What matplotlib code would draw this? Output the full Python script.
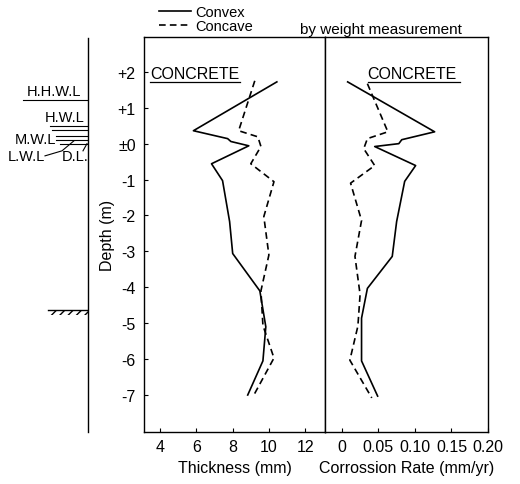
import matplotlib
matplotlib.use("Agg")
import matplotlib.pyplot as plt

# ---- data ----
depth_ticks = [2, 1, 0, -1, -2, -3, -4, -5, -6, -7]
depth_ticklabels = ["+2", "+1", "±0", "-1", "-2", "-3", "-4", "-5", "-6", "-7"]

thick_ticks = [4, 6, 8, 10, 12]
rate_ticks = [0, 0.05, 0.10, 0.15, 0.20]
rate_ticklabels = ["0", "0.05", "0.10", "0.15", "0.20"]

depth_thick_convex = [1.72, 0.36, 0.14, 0.06, -0.06, -0.56, -1.03, -2.17, -3.06, -4.1, -5.1, -6.05, -7.0]
thick_convex = [10.44, 5.83, 7.72, 7.9, 8.89, 6.83, 7.44, 7.83, 8.0, 9.5, 9.83, 9.67, 8.83]

depth_thick_concave = [1.75, 0.36, 0.19, -0.08, -0.56, -1.06, -2.03, -3.1, -4.1, -5.06, -5.97, -7.0]
thick_concave = [9.22, 8.33, 9.39, 9.56, 9.0, 10.28, 9.72, 10.0, 9.56, 9.67, 10.28, 9.17]

depth_rate_convex = [1.72, 0.33, 0.11, 0.0, -0.08, -0.61, -1.05, -2.17, -3.14, -4.03, -4.86, -6.05, -7.03]
rate_convex = [0.008, 0.127, 0.082, 0.078, 0.045, 0.101, 0.086, 0.075, 0.069, 0.035, 0.027, 0.027, 0.049]

depth_rate_concave = [1.67, 0.33, 0.14, -0.14, -0.61, -1.1, -2.14, -3.14, -4.2, -5.08, -6.03, -7.08]
rate_concave = [0.035, 0.063, 0.035, 0.030, 0.045, 0.012, 0.027, 0.018, 0.025, 0.022, 0.011, 0.041]

# water levels (depth, m)
level_names = ["H.H.W.L", "H.W.L", "M.W.L", "L.W.L", "D.L."]
level_depths = [1.22, 0.5, 0.14, 0.0, 0.0]
ground_depth = -4.64

plt.rcParams['font.family'] = ['Liberation Sans', 'DejaVu Sans']

W, H = 520, 485
fig = plt.figure(figsize=(W / 100, H / 100), dpi=100)

ylim = (-8.03, 2.97)
bottom = 1 - 433 / H
height = (433 - 38) / H

ax1 = fig.add_axes([144 / W, bottom, (325 - 144) / W, height])
ax2 = fig.add_axes([325 / W, bottom, (488 - 325) / W, height])
axl = fig.add_axes([0, bottom, 88 / W, height])

dash = (0, (4, 2.5))
lw = 1.2
l1, = ax1.plot(thick_convex, depth_thick_convex, color='black', lw=lw)
l2, = ax1.plot(thick_concave, depth_thick_concave, color='black', lw=lw, linestyle=dash)
ax2.plot(rate_convex, depth_rate_convex, color='black', lw=lw)
ax2.plot(rate_concave, depth_rate_concave, color='black', lw=lw, linestyle=dash)

fs_main = 11.5
for ax, tx, ux in ((ax1, 0.035, 0.53), (ax2, 0.262, 0.83)):
    ax.set_ylim(*ylim)
    for s in ax.spines.values():
        s.set_linewidth(1.0)
    ax.tick_params(direction='in', length=3, width=0.8, labelsize=fs_main)
    ax.text(tx, 0.895, "CONCRETE", transform=ax.transAxes, fontsize=fs_main)
    ax.plot([tx, ux], [0.885, 0.885], transform=ax.transAxes, color='black', lw=0.9)

ax1.set_xlim(3.1, 13.1)
ax1.set_xticks(thick_ticks)
ax1.set_yticks(depth_ticks)
ax1.set_yticklabels(depth_ticklabels)
ax1.set_xlabel("Thickness (mm)", fontsize=fs_main, labelpad=4)
ax1.set_ylabel("Depth (m)", fontsize=fs_main, labelpad=2)
ax1.tick_params(axis='y', pad=6)
ax1.tick_params(axis='x', pad=5)

ax2.set_xlim(-0.023, 0.20)
ax2.set_xticks(rate_ticks)
ax2.set_xticklabels(rate_ticklabels)
ax2.set_yticks([])
ax2.tick_params(axis='x', pad=5)
ax2.set_xlabel("Corrossion Rate (mm/yr)", fontsize=fs_main, labelpad=4)

# left strip with water levels
axl.set_ylim(*ylim)
axl.set_xlim(0, 88)
axl.axis('off')
axl.plot([88, 88], [ylim[0], ylim[1] - 0.02], color='black', lw=1.0, clip_on=False)
fs = 10.5
axl.text(81, 1.22 + 0.06, level_names[0], ha='right', va='bottom', fontsize=fs)
axl.plot([23, 88], [1.22, 1.22], color='black', lw=0.8)
axl.text(84, 0.5 + 0.06, level_names[1], ha='right', va='bottom', fontsize=fs)
axl.plot([50, 88], [0.5, 0.5], color='black', lw=0.8)
axl.plot([52, 88], [0.37, 0.37], color='black', lw=0.8)
axl.text(56, 0.14, level_names[2], ha='right', va='center', fontsize=fs)
axl.plot([56, 88], [0.22, 0.22], color='black', lw=0.8)
axl.plot([56, 88], [0.1, 0.1], color='black', lw=0.8)
axl.plot([60, 88], [0.0, 0.0], color='black', lw=0.8)
axl.text(45, -0.34, level_names[3], ha='right', va='center', fontsize=fs)
axl.plot([45, 62, 74], [-0.34, -0.2, 0.08], color='black', lw=0.8)
axl.text(62, -0.34, level_names[4], ha='left', va='center', fontsize=fs)
axl.plot([83, 87], [-0.2, 0.0], color='black', lw=0.8)
axl.plot([48, 88], [ground_depth, ground_depth], color='black', lw=1.0)
axl.fill_between([48, 88], ground_depth - 0.12, ground_depth, hatch='////',
                 facecolor='none', edgecolor='black', lw=0)

# legend
fig.legend(handles=[l1, l2], labels=["Convex", "Concave"], loc='upper left',
           bbox_to_anchor=(150 / W, 1 + 3 / H), frameon=False, fontsize=10.5,
           handlelength=2.2, handletextpad=0.3, labelspacing=0.0, borderpad=0.1)
fig.text(300 / W, 1 - 30 / H, "by weight measurement", fontsize=11, va='center')

fig.savefig("out.png", dpi=100)
